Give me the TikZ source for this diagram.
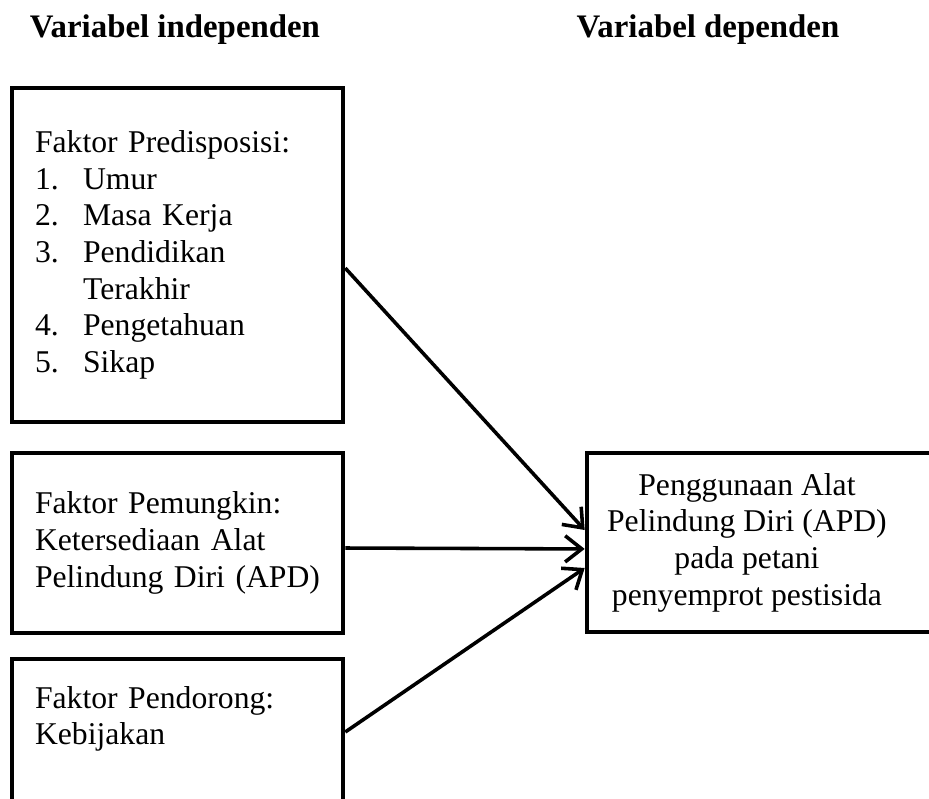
\documentclass[tikz,border=0pt]{standalone}
\usepackage{fontspec}
\setmainfont{Liberation Serif}
\usetikzlibrary{arrows.meta}
\newcommand{\butir}[2]{\makebox[20.2pt][l]{#1}#2}

\begin{document}
\begin{tikzpicture}[x=0.42pt,y=-0.42pt,>={Straight Barb[length=7pt,width=11pt]},
  kotak/.style={draw,line width=1.9pt,align=left,text width=119.7pt,
    inner xsep=9.66pt,minimum width=139pt,font=\fontsize{13.3}{15.4}\selectfont},
  judul/.style={anchor=base,font=\bfseries\fontsize{13.8}{16}\selectfont},
  panah/.style={->,line width=1.5pt}]
 \clip (0,0) rectangle (929,798);
 % judul kolom
 \node[judul] (indep) at (175,37) {Variabel independen};
 \node[judul] (dep) at (708,37) {Variabel dependen};
 % variabel independen
 \node[kotak,minimum height=140.3pt] (predis) at (177.5,255)
   {Faktor Predisposisi:\\ \butir{1.}{Umur}\\ \butir{2.}{Masa Kerja}\\
    \butir{3.}{Pendidikan}\\ \hspace*{20.2pt}Terakhir\\
    \butir{4.}{Pengetahuan}\\ \butir{5.}{Sikap}};
 \node[kotak,minimum height=75.6pt] (pemungkin) at (177.5,543)
   {Faktor Pemungkin:\\ Ketersediaan Alat\\ Pelindung Diri (APD)};
 \node[kotak,minimum height=78pt] (pendorong) at (177.5,752)
   {Faktor Pendorong:\\ Kebijakan\\ \mbox{}\\ \mbox{}};
 % variabel dependen
 \node[draw,line width=1.9pt,inner sep=0pt,minimum width=156.7pt,
    minimum height=75.2pt,font=\fontsize{13.3}{15.4}\selectfont] (apd) at (773.5,542.5)
   {\parbox{126pt}{\centering Penggunaan Alat\\ Pelindung Diri (APD)\\
    pada petani\\ penyemprot pestisida}\hspace*{22.3pt}};
 \draw[panah] ([yshift=-5.5pt]predis.east) -- ([yshift=5.25pt]apd.west);
 \draw[panah] ([yshift=-2.1pt]pemungkin.east) -- ([yshift=-2.7pt]apd.west);
 \draw[panah] ([yshift=8.4pt]pendorong.east) -- ([yshift=-10.7pt]apd.west);
\end{tikzpicture}
\end{document}
